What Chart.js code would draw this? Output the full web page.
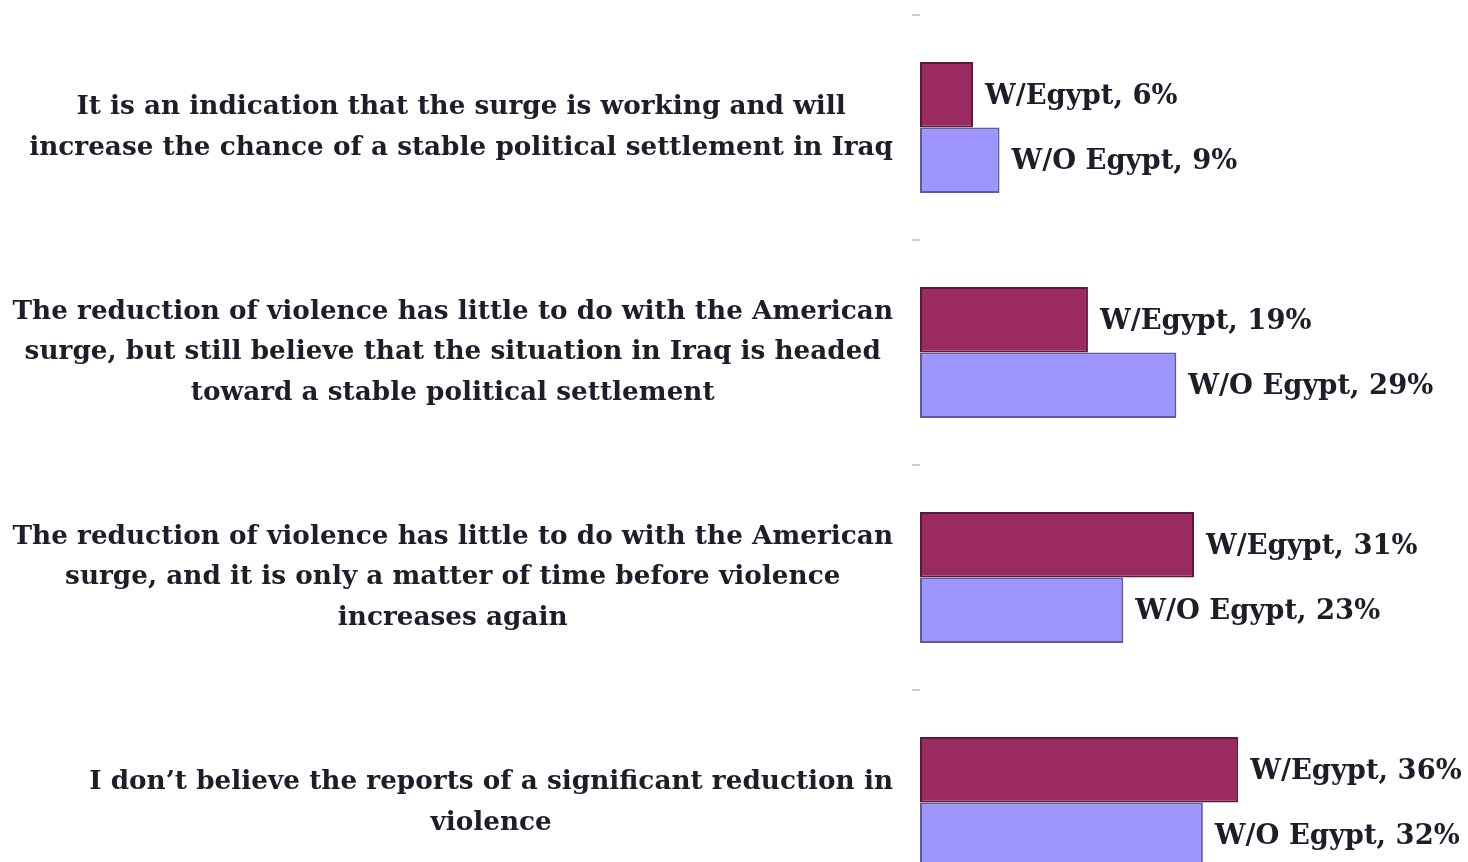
<!DOCTYPE html>
<html><head><meta charset="utf-8">
<script src="https://cdn.jsdelivr.net/npm/chart.js@4"></script>
<style>html,body{margin:0;padding:0;overflow:hidden;background:#fff}#wrap{width:1468px;height:920px;position:relative}</style>
</head><body><div id="wrap"><canvas id="c"></canvas></div>
<script>
const categories = [
  ["It is an indication that the surge is working and will", "increase the chance of a stable political settlement in Iraq"],
  ["The reduction of violence has little to do with the American", "surge, but still believe that the situation in Iraq is headed", "toward a stable political settlement"],
  ["The reduction of violence has little to do with the American", "surge, and it is only a matter of time before violence", "increases again"],
  ["I don\u2019t believe the reports of a significant reduction in", "violence"]
];
const seriesNames = ["W/Egypt", "W/O Egypt"];
const withEgypt = [6, 19, 31, 36];
const withoutEgypt = [9, 29, 23, 32];

const FONT_FAMILY = '"DejaVu Serif", serif';
const TEXT_COLOR = '#1e1e2a';
let fontSize = 24;

const labelPlugin = {
  id: 'customLabels',
  afterDatasetsDraw(chart) {
    const ctx = chart.ctx;
    const yScale = chart.scales.y;
    ctx.save();
    ctx.font = `bold 100px ${FONT_FAMILY}`;
    let maxW = 0;
    categories.forEach(lines => lines.forEach(l => { maxW = Math.max(maxW, ctx.measureText(l).width); }));
    fontSize = 100 * 881 / maxW;
    ctx.font = `bold ${fontSize}px ${FONT_FAMILY}`;
    ctx.fillStyle = TEXT_COLOR;
    ctx.textBaseline = 'middle';
    ctx.textAlign = 'center';
    const right = chart.chartArea.left - 27;
    const lh = 40.5;
    categories.forEach((lines, i) => {
      const cy = yScale.getPixelForValue(i);
      const w = Math.max(...lines.map(l => ctx.measureText(l).width));
      const cx = right - w / 2;
      lines.forEach((l, j) => ctx.fillText(l, cx, cy + (j - (lines.length - 1) / 2) * lh));
    });
    ctx.font = `bold ${fontSize * 1.04}px ${FONT_FAMILY}`;
    ctx.textAlign = 'left';
    chart.data.datasets.forEach((ds, di) => {
      const meta = chart.getDatasetMeta(di);
      meta.data.forEach((bar, i) => {
        ctx.fillText(`${seriesNames[di]}, ${ds.data[i]}%`, bar.x + 12, bar.y + 2);
      });
    });
    ctx.restore();
  }
};

new Chart(document.getElementById('c'), {
  type: 'bar',
  data: {
    labels: categories,
    datasets: [
      { label: seriesNames[0], data: withEgypt, backgroundColor: '#9b2a60', borderColor: '#5a1a3a', borderWidth: 2, borderSkipped: false, categoryPercentage: 0.583, barPercentage: 1 },
      { label: seriesNames[1], data: withoutEgypt, backgroundColor: '#9d95fb', borderColor: '#5e5a9e', borderWidth: 2, borderSkipped: false, categoryPercentage: 0.583, barPercentage: 1 }
    ]
  },
  options: {
    indexAxis: 'y',
    responsive: true,
    maintainAspectRatio: false,
    animation: false,
    layout: { padding: { top: 15, bottom: 5, left: 0, right: 0 } },
    plugins: { legend: { display: false }, tooltip: { enabled: false } },
    scales: {
      x: { display: false, min: 0, max: 62 },
      y: {
        offset: true,
        border: { display: false },
        grid: { offset: true, drawOnChartArea: false, drawTicks: true, tickLength: 8, color: '#cfcfcf', lineWidth: 2 },
        ticks: { display: false },
        afterFit: (s) => { s.width = 920; }
      }
    }
  },
  plugins: [labelPlugin]
});
</script>
</body></html>
